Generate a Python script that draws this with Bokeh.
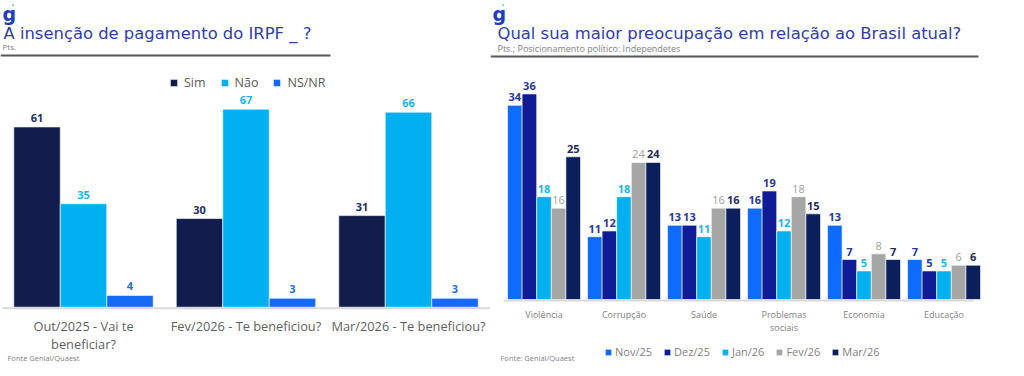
from bokeh.plotting import figure
from bokeh.models import (Range1d, Label, Legend, LegendItem, BoxAnnotation,
                          ColumnDataSource)
from bokeh.transform import dodge
from bokeh.layouts import row
from bokeh.embed import file_html
from bokeh.resources import INLINE
from bokeh.core.properties import value

FONT = "Open Sans"
TFONT = "DejaVu Sans"

# ---------------- data ----------------
irpf_categories = ["Out/2025 - Vai te\nbeneficiar?", "Fev/2026 - Te beneficiou?", "Mar/2026 - Te beneficiou?"]
irpf_series = ["Sim", "Não", "NS/NR"]
irpf_sim = [61, 30, 31]
irpf_nao = [35, 67, 66]
irpf_nsnr = [4, 3, 3]

concern_categories = ["Violência", "Corrupção", "Saúde", "Problemas\nsociais", "Economia", "Educação"]
concern_months = ["Nov/25", "Dez/25", "Jan/26", "Fev/26", "Mar/26"]
concern_nov = [34, 11, 13, 16, 13, 7]
concern_dez = [36, 12, 13, 19, 7, 5]
concern_jan = [18, 18, 11, 12, 5, 5]
concern_fev = [16, 24, 16, 18, 8, 6]
concern_mar = [25, 24, 16, 15, 7, 6]

# ---------------- styles ----------------
irpf_colors = ["#121d4d", "#00b0f0", "#1469f5"]
irpf_label_colors = ["#1f2d5c", "#1ab3f0", "#1f6fd0"]
concern_colors = ["#0f6bff", "#101c96", "#00b0f0", "#a6a6a6", "#0b1f5c"]
concern_label_colors = ["#28379a", "#28379a", "#1cb4f0", "#9e9e9e", "#1f2d5c"]
concern_label_weights = ["bold", "bold", "bold", "normal", "bold"]
TITLE_COLOR = "#2e3db0"
GREY = "#7f7f7f"
H = 366


def add_label(p, x, y, text, size, color, weight="normal", baseline="middle",
              align="left", font=FONT):
    p.add_layout(Label(x=x, y=y, x_units="screen", y_units="screen", text=text,
                       text_font=font, text_font_size=size, text_color=color,
                       text_font_style=weight, text_baseline=baseline, text_align=align))


def base_fig(x0, w, c0, px, base, py):
    p = figure(width=w, height=H, output_backend="svg", toolbar_location=None,
               x_range=Range1d((x0 - c0) / px, (x0 + w - c0) / px),
               y_range=Range1d(-(H - base) / py, base / py),
               x_axis_location=None, y_axis_location=None,
               min_border_left=0, min_border_right=0, min_border_top=0, min_border_bottom=0)
    p.outline_line_color = None
    p.grid.visible = False
    return p


def add_logo(p, x, base_y):
    add_label(p, x, base_y, "g", "19px", "#1c3fc0", "bold", "alphabetic", font=TFONT)
    add_label(p, x + 9, base_y + 6, "'", "9px", "#35b3e8", "bold", "alphabetic", font=TFONT)


# ================= LEFT =================
L_X0, L_W = 0, 490
L_BASE = 306.7
L_PX = 162.5
L_C0 = 83.0
L_PY = 2.955

left = base_fig(L_X0, L_W, L_C0, L_PX, L_BASE, L_PY)

lsrc = ColumnDataSource(dict(idx=list(range(len(irpf_categories))), cat=irpf_categories,
                             zero=[0] * len(irpf_categories),
                             Sim=irpf_sim, Nao=irpf_nao, NSNR=irpf_nsnr,
                             Sim_t=[str(v) for v in irpf_sim],
                             Nao_t=[str(v) for v in irpf_nao],
                             NSNR_t=[str(v) for v in irpf_nsnr]))
l_bw = 0.286
l_items = []
for k, (field, name) in enumerate(zip(["Sim", "Nao", "NSNR"], irpf_series)):
    off = (k - 1) * l_bw
    r = left.vbar(x=dodge("idx", off), top=field, width=l_bw, bottom=0, source=lsrc,
                  fill_color=irpf_colors[k], line_color="white", line_width=0.6)
    left.text(x=dodge("idx", off), y=field, text=field + "_t", source=lsrc,
              text_align="center", text_baseline="bottom", y_offset=-5,
              text_font=value(FONT), text_font_size="11px", text_font_style="bold",
              text_color=irpf_label_colors[k])
    l_items.append(LegendItem(label=name, renderers=[r]))

# category labels
left.text(x="idx", y="zero", text="cat", source=lsrc, text_align="center",
          text_baseline="top", y_offset=10, text_font=value(FONT), text_font_size="12.8px",
          text_color="#5f5f5f", text_line_height=1.0)

lleg = Legend(items=l_items, location=(169, H - 91), orientation="horizontal",
              glyph_width=9, glyph_height=9, label_height=12, label_standoff=6, spacing=14,
              padding=0, margin=0, border_line_color=None, background_fill_alpha=0,
              label_text_font=FONT, label_text_font_size="12.5px", label_text_color="#595959")
left.add_layout(lleg, "center")

# baseline
left.add_layout(BoxAnnotation(left=(2 - L_C0) / L_PX, bottom=-2 / L_PY, top=0,
                              fill_color="#d9d9d9", fill_alpha=1, line_color=None))
# header rule
left.add_layout(BoxAnnotation(right=(330 - L_C0) / L_PX, bottom=(L_BASE - 56) / L_PY,
                              top=(L_BASE - 54) / L_PY, fill_color="#595959", fill_alpha=1,
                              line_color=None))


def lfx(px):
    return px - L_X0


def lfy(py):
    return H - py


add_logo(left, lfx(2), lfy(13))
add_label(left, lfx(3), lfy(33), "A insenção de pagamento do IRPF _ ?", "16.4px", TITLE_COLOR, font=TFONT)
add_label(left, lfx(2), lfy(46), "Pts.", "8px", GREY)
add_label(left, lfx(7), lfy(357), "Fonte Genial/Quaest", "7.5px", GREY)

# ================= RIGHT =================
R_X0, R_W = 490, 510
R_BASE = 299
R_PX = 80.0
R_C0 = 543.5
R_PY = 5.71

right = base_fig(R_X0, R_W, R_C0, R_PX, R_BASE, R_PY)

series_vals = [concern_nov, concern_dez, concern_jan, concern_fev, concern_mar]
rdata = dict(idx=list(range(len(concern_categories))), cat=concern_categories,
             zero=[0] * len(concern_categories))
for k, vals in enumerate(series_vals):
    rdata["s%d" % k] = vals
    rdata["t%d" % k] = [str(v) for v in vals]
rsrc = ColumnDataSource(rdata)
r_bw = 0.1825
r_items = []
for k, name in enumerate(concern_months):
    off = (k - 2) * r_bw
    r = right.vbar(x=dodge("idx", off), top="s%d" % k, width=r_bw, bottom=0, source=rsrc,
                   fill_color=concern_colors[k], line_color="white", line_width=0.6)
    right.text(x=dodge("idx", off), y="s%d" % k, text="t%d" % k, source=rsrc,
               text_align="center", text_baseline="bottom", y_offset=-4,
               text_font=value(FONT), text_font_size="11px",
               text_font_style=concern_label_weights[k],
               text_color=concern_label_colors[k])
    r_items.append(LegendItem(label=name, renderers=[r]))

right.text(x="idx", y="zero", text="cat", source=rsrc, text_align="center",
           text_baseline="top", y_offset=8, text_font=value(FONT), text_font_size="9px",
           text_color=GREY, text_line_height=1.06)


def rfx(px):
    return px - R_X0


def rfy(py):
    return H - py


rleg = Legend(items=r_items, location=(rfx(604), rfy(359)), orientation="horizontal",
              glyph_width=8, glyph_height=8, label_height=11, label_standoff=3, spacing=11,
              padding=0, margin=0, border_line_color=None, background_fill_alpha=0,
              label_text_font=FONT, label_text_font_size="11px", label_text_color=GREY)
right.add_layout(rleg, "center")

# baseline
right.add_layout(BoxAnnotation(left=(503 - R_C0) / R_PX, right=(973 - R_C0) / R_PX,
                               bottom=-2 / R_PY, top=0, fill_color="#d9d9d9", fill_alpha=1,
                               line_color=None))
# header rule
right.add_layout(BoxAnnotation(right=(978 - R_C0) / R_PX, bottom=(R_BASE - 57) / R_PY,
                               top=(R_BASE - 55) / R_PY, fill_color="#595959", fill_alpha=1,
                               line_color=None))

add_logo(right, rfx(492), rfy(13))
add_label(right, rfx(497), rfy(33), "Qual sua maior preocupação em relação ao Brasil atual?", "16.4px", TITLE_COLOR, font=TFONT)
add_label(right, rfx(497), rfy(48), "Pts.; Posicionamento político: Independetes", "9px", GREY)
add_label(right, rfx(500), rfy(357), "Fonte: Genial/Quaest", "7.5px", GREY)

layout = row(left, right, spacing=0)
open("out.html", "w").write(file_html(layout, INLINE))
